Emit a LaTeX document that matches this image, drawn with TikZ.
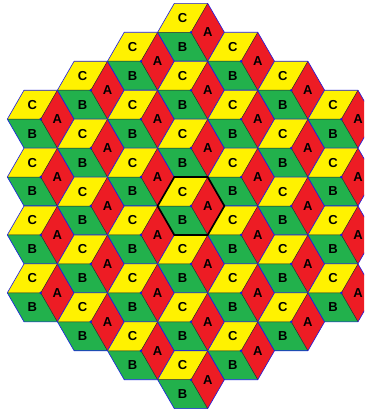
\documentclass[tikz,border=0pt]{standalone}
\usepackage{fontspec}
\setmainfont{Liberation Sans}
\definecolor{cyel}{HTML}{FFF200}
\definecolor{cred}{HTML}{ED1C24}
\definecolor{cgrn}{HTML}{22B14C}
\definecolor{cblu}{HTML}{1A1AE6}
\begin{document}
\begin{tikzpicture}[x=1pt,y=-1pt,
  lab/.style={font=\fontsize{13}{13}\selectfont\bfseries, inner sep=0pt, text=black},
  outl/.style={draw=cblu, line width=0.6pt, line join=round},
  inner/.style={draw=black!85, line width=0.5pt},
  bold/.style={draw=black, line width=1.7pt, line join=miter}]
\useasboundingbox (0,0) rectangle (364,412);
\clip (0,0) rectangle (364,412);
\def\s{33.4}
\def\h{28.95}
\foreach \q in {-3,...,3}{
  \pgfmathtruncatemacro\rmin{max(-3,-3-\q)}
  \pgfmathtruncatemacro\rmax{min(3,3-\q)}
  \foreach \r in {\rmin,...,\rmax}{
    \pgfmathsetmacro\cx{191+1.5*\s*\q}
    \pgfmathsetmacro\cy{206+\h*(2*\r+\q)}
    \begin{scope}[shift={(\cx,\cy)}]
      \fill[cyel] (-\s,0) -- (-\s/2,-\h) -- (\s/2,-\h) -- (0,0) -- cycle;
      \fill[cred] (0,0) -- (\s/2,-\h) -- (\s,0) -- (\s/2,\h) -- cycle;
      \fill[cgrn] (0,0) -- (\s/2,\h) -- (-\s/2,\h) -- (-\s,0) -- cycle;
      \draw[inner] (0,0) -- (-\s,0) (0,0) -- (\s/2,-\h) (0,0) -- (\s/2,\h);
      \draw[outl] (-\s,0) -- (-\s/2,-\h) -- (\s/2,-\h) -- (\s,0) -- (\s/2,\h) -- (-\s/2,\h) -- cycle;
      \fill[cblu] (0,0) circle (1.4);
      \node[lab] (C\q r\r) at (-\s/4,-\h/2) {C};
      \node[lab] (A\q r\r) at (\s/2,0) {A};
      \node[lab] (B\q r\r) at (-\s/4,\h/2) {B};
    \end{scope}
  }
}
\begin{scope}[shift={(191,206)}]
  \draw[bold] (-\s,0) -- (-\s/2,-\h) -- (\s/2,-\h) -- (\s,0) -- (\s/2,\h) -- (-\s/2,\h) -- cycle;
\end{scope}
\end{tikzpicture}
\end{document}
